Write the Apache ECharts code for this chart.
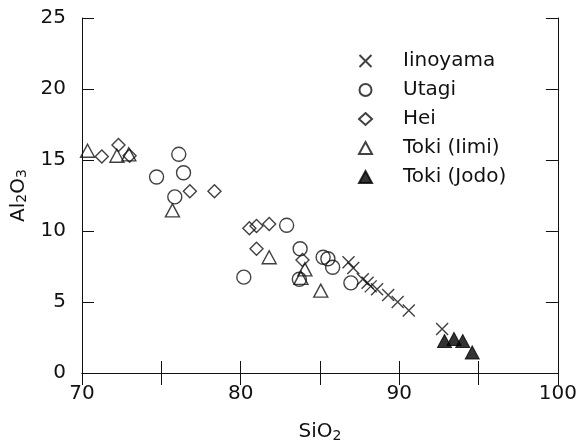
<!DOCTYPE html>
<html>
<head>
<meta charset="utf-8">
<script src="https://cdn.jsdelivr.net/npm/echarts@6/dist/echarts.min.js"></script>
<style>
  html, body { margin: 0; padding: 0; background: #fff; }
  #chart { width: 580px; height: 448px; }
</style>
</head>
<body>
<div id="chart"></div>
<script>
// data: [SiO2, Al2O3]
const iinoyama = [[86.8, 7.8], [87.1, 7.4], [87.7, 6.6], [88.0, 6.35], [88.2, 6.1], [88.6, 5.9], [89.3, 5.5], [89.9, 5.0], [90.6, 4.4], [92.7, 3.1]];
const utagi = [[74.7, 13.8], [75.85, 12.4], [76.1, 15.4], [76.4, 14.1], [80.2, 6.75], [82.9, 10.4], [83.75, 8.75], [83.7, 6.6], [85.2, 8.15], [85.5, 8.05], [85.8, 7.45], [86.95, 6.35]];
const hei = [[71.25, 15.25], [72.3, 16.05], [73.0, 15.3], [76.8, 12.8], [78.35, 12.8], [80.55, 10.2], [81.0, 10.35], [81.8, 10.5], [81.0, 8.75], [83.9, 7.95]];
const tokiIimi = [[70.35, 15.65], [72.2, 15.3], [72.95, 15.4], [75.7, 11.45], [81.8, 8.15], [84.05, 7.3], [83.8, 6.7], [85.05, 5.8]];
const tokiJodo = [[92.85, 2.25], [93.45, 2.4], [94.0, 2.25], [94.6, 1.45]];

const seriesNames = ['Iinoyama', 'Utagi', 'Hei', 'Toki (Iimi)', 'Toki (Jodo)'];

document.addEventListener('DOMContentLoaded', function() {
    const chart = echarts.init(document.getElementById('chart'));
    const ink = '#111';
    const font = 'DejaVu Sans, sans-serif';

    const hollow = {
        color: 'transparent',
        borderColor: ink,
        borderWidth: 1.4
    };

    const option = {
        animation: false,
        grid: { left: 82, right: 21, top: 18, bottom: 72 },
        legend: {
            orient: 'vertical',
            left: 353,
            top: 46,
            itemWidth: 13,
            itemHeight: 12,
            itemGap: 9,
            data: seriesNames,
            textStyle: {
                fontFamily: font,
                fontSize: 20,
                color: ink,
                padding: [0, 0, 0, 26]
            }
        },
        xAxis: [{
            type: 'value',
            min: 70, max: 100, interval: 5,
            name: '{a|SiO}{s|2}',
            nameLocation: 'middle',
            nameGap: 48,
            nameTextStyle: {
                rich: {
                    a: { fontFamily: font, fontSize: 20, color: ink },
                    s: { fontFamily: font, fontSize: 14, color: ink, padding: [8, 0, 0, 0] }
                }
            },
            axisLine: { lineStyle: { color: ink, width: 1 } },
            axisTick: { inside: true, length: 12, lineStyle: { color: ink } },
            splitLine: { show: false },
            axisLabel: {
                fontFamily: font, fontSize: 20, color: ink, margin: 11,
                formatter: function(v) { return v % 10 === 0 ? v : ''; }
            }
        }, {
            type: 'value',
            position: 'top',
            min: 70, max: 100, interval: 5,
            axisLine: { show: true, lineStyle: { color: ink, width: 1 } },
            axisTick: { show: true, inside: true, length: 12, lineStyle: { color: ink } },
            axisLabel: { show: false },
            splitLine: { show: false }
        }],
        yAxis: [{
            type: 'value',
            min: 0, max: 25, interval: 5,
            name: '{a|Al}{s|2}{a|O}{s|3}',
            nameLocation: 'middle',
            nameGap: 46,
            nameTextStyle: {
                rich: {
                    a: { fontFamily: font, fontSize: 20, color: ink },
                    s: { fontFamily: font, fontSize: 14, color: ink, padding: [8, 0, 0, 0] }
                }
            },
            axisLine: { lineStyle: { color: ink, width: 1 } },
            axisTick: { inside: true, length: 12, lineStyle: { color: ink } },
            splitLine: { show: false },
            axisLabel: { fontFamily: font, fontSize: 20, color: ink, margin: 16 }
        }, {
            type: 'value',
            position: 'right',
            min: 0, max: 25, interval: 5,
            axisLine: { show: true, lineStyle: { color: ink, width: 1 } },
            axisTick: { show: true, inside: true, length: 12, lineStyle: { color: ink } },
            axisLabel: { show: false },
            splitLine: { show: false }
        }],
        series: [
            {
                name: seriesNames[0],
                type: 'scatter',
                symbol: 'path://M0,0L10,10M10,0L0,10',
                symbolSize: 12,
                itemStyle: { color: 'transparent', borderColor: ink, borderWidth: 1.4 },
                data: iinoyama
            },
            {
                name: seriesNames[1],
                type: 'scatter',
                symbol: 'circle',
                symbolSize: 14,
                itemStyle: hollow,
                data: utagi
            },
            {
                name: seriesNames[2],
                type: 'scatter',
                symbol: 'diamond',
                symbolSize: 13,
                itemStyle: hollow,
                data: hei
            },
            {
                name: seriesNames[3],
                type: 'scatter',
                symbol: 'triangle',
                symbolSize: [14, 13],
                itemStyle: hollow,
                data: tokiIimi
            },
            {
                name: seriesNames[4],
                type: 'scatter',
                symbol: 'triangle',
                symbolSize: [14, 13],
                itemStyle: { color: '#000', borderColor: '#000', borderWidth: 1 },
                data: tokiJodo
            }
        ]
    };

    chart.setOption(option);
});
</script>
</body>
</html>
